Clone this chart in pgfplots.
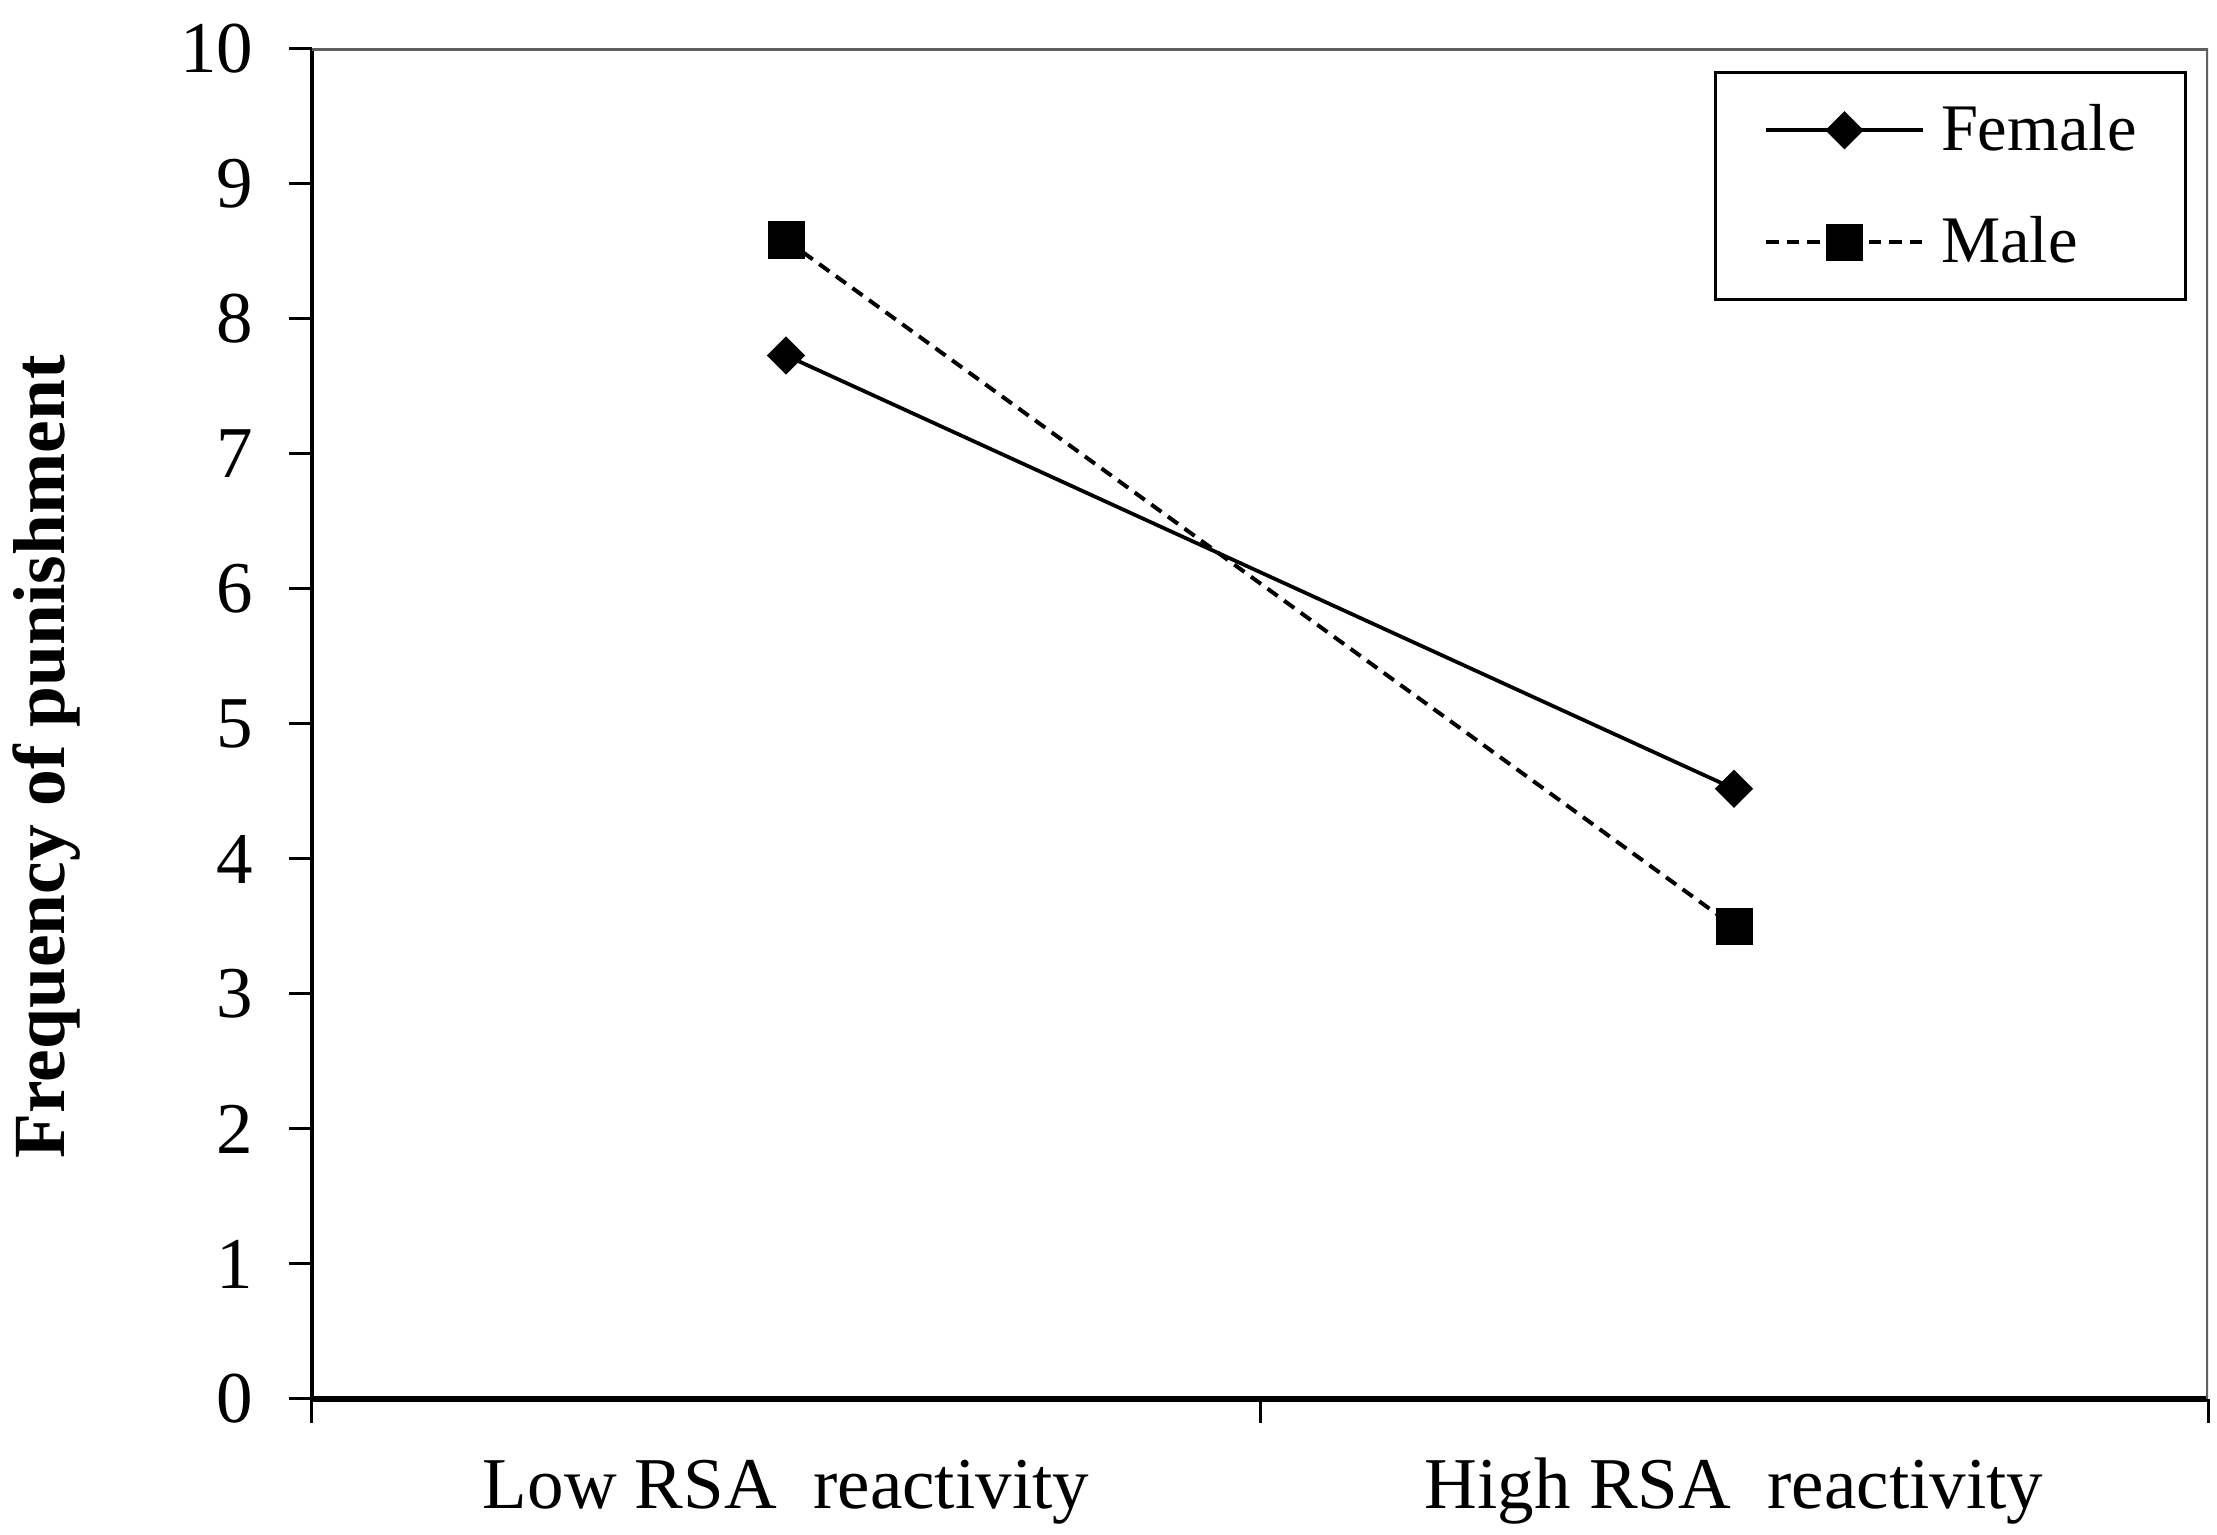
\documentclass[border=0pt]{standalone}
\usepackage{fontspec}
\setmainfont{Liberation Serif}
\usepackage{pgfplots}
\pgfplotsset{compat=1.18}
\definecolor{framegray}{RGB}{95,95,95}
\pgfplotstableread{
x y
0.5 7.73
1.5 4.52
}\female
\pgfplotstableread{
x y
0.5 8.585
1.5 3.50
}\male
\begin{document}
\begin{tikzpicture}
\useasboundingbox (-62.4pt,-27.2pt) rectangle (381pt,279.8pt);
\begin{axis}[
  at={(0,0)}, anchor=south west,
  scale only axis, width=379.2pt, height=270pt,
  xmin=0, xmax=2, ymin=0, ymax=10,
  axis lines=left,
  axis line style={-},
  x axis line style={black, line width=1.1pt},
  y axis line style={black, line width=0.9pt},
  ytick={0,1,...,10},
  xtick={0.5,1.5},
  xticklabels={Low RSA\ \ reactivity, High RSA\ \ reactivity},
  minor xtick={0,1,2},
  tick align=outside,
  major tick length=4.6pt, minor tick length=4.8pt,
  every major x tick/.append style={draw=none},
  every minor x tick/.append style={black, line width=0.6pt},
  every major y tick/.append style={black, line width=0.6pt},
  /pgf/number format/assume math mode=true,
  ticklabel style={font=\fontsize{14.6}{17}\selectfont},
  yticklabel style={anchor=east, xshift=-3.6pt},
  xticklabel style={anchor=base, yshift=-17.2pt},
  ylabel={\bfseries Frequency of punishment},
  ylabel style={font=\fontsize{14.7}{17}\selectfont, at={(axis description cs:-0.1303,0.4756)}, anchor=base, rotate=0},
  legend cell align=left,
  legend image code/.code={\draw[mark repeat=2,mark phase=2] plot coordinates {(0pt,0pt) (15.7pt,0pt) (31.4pt,0pt)};},
  legend style={at={(0.9889,0.9837)}, anchor=north east, draw=black, line width=0.7pt,
    inner xsep=9.7pt, inner ysep=6.6pt, row sep=12.6pt,
    nodes={inner sep=0pt, text height=9pt, text depth=0.8pt},
    font=\fontsize{13.3}{16}\selectfont,
    /tikz/every odd column/.append style={column sep=3.2pt}},
]
\addplot[black, line width=0.75pt, mark=square*, mark size=2.33pt, mark options={solid, rotate=45}] table[x=x,y=y] {\female};
\addlegendentry{Female}
\addplot[black, line width=0.8pt, dash pattern=on 2.5pt off 1.6pt, mark=square*, mark size=3.3pt, mark options={solid}] table[x=x,y=y] {\male};
\addlegendentry{Male}
\draw[framegray, line width=0.9pt] (rel axis cs:0,1) -- (rel axis cs:1,1) -- (rel axis cs:1,0);
\end{axis}
\end{tikzpicture}
\end{document}
